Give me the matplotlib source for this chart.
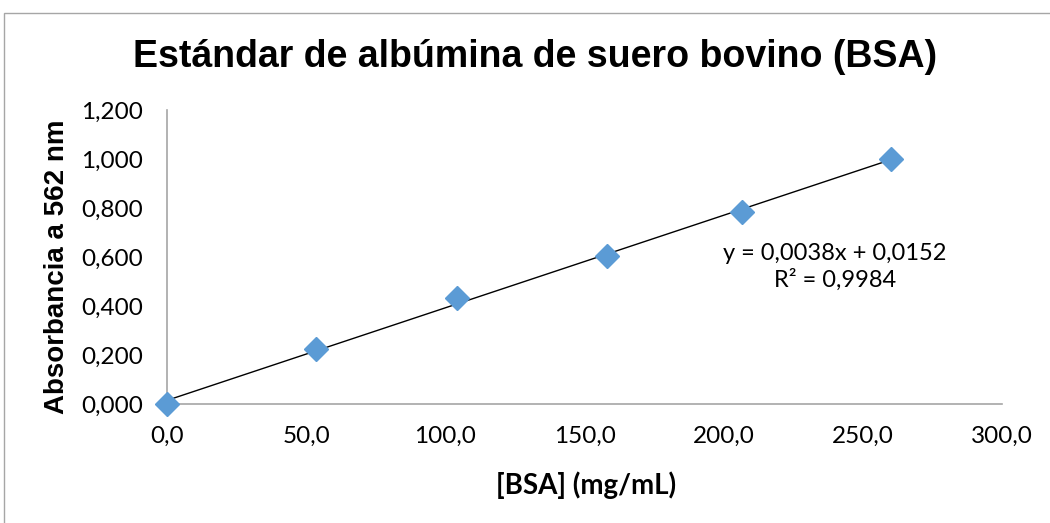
import numpy as np
import matplotlib.pyplot as plt
from matplotlib.patches import Rectangle

# [BSA] (mg/mL) vs absorbance at 562 nm
bsa = [0.0, 53.5, 104.2, 158.1, 206.6, 260.1]
absorb = [0.000, 0.224, 0.433, 0.604, 0.784, 1.000]
x_ticks = [0, 50, 100, 150, 200, 250, 300]
y_ticks = [0.0, 0.2, 0.4, 0.6, 0.8, 1.0, 1.2]

title = "Estándar de albúmina de suero bovino (BSA)"
eq_text = "y = 0,0038x + 0,0152\nR² = 0,9984"

blue = "#5B9BD5"
grey = "#A6A6A6"

fig = plt.figure(figsize=(10.5, 5.23), dpi=100)
# Excel chart-area border (only top and left edges visible)
fig.patches.append(Rectangle((4 / 1050, -0.1), 1.2, 1 - 13 / 523 + 0.1,
                             transform=fig.transFigure, fill=False,
                             edgecolor=grey, lw=1))

ax = fig.add_axes([167 / 1050, 1 - 404 / 523, 835 / 1050, 294 / 523])
ax.set_xlim(0, 300)
ax.set_ylim(0, 1.2)

# linear fit
m, b = np.polyfit(bsa, absorb, 1)
xs = np.array([0, max(bsa)])
ax.plot(xs, m * xs + b, color="black", lw=1, zorder=2)
ax.plot(bsa, absorb, linestyle="none", marker="D", ms=12,
        color=blue, zorder=3, clip_on=False)

ax.set_xticks(x_ticks)
ax.set_xticklabels(["{:.1f}".format(v).replace(".", ",") for v in x_ticks])
ax.set_yticks(y_ticks)
ax.set_yticklabels(["{:.3f}".format(v).replace(".", ",") for v in y_ticks])
ax.tick_params(length=0, labelsize=17.5)
ax.tick_params(axis="y", pad=17)
ax.tick_params(axis="x", pad=16)
for lab in ax.get_xticklabels() + ax.get_yticklabels():
    lab.set_family("Lato")

for s in ["top", "right"]:
    ax.spines[s].set_visible(False)
for s in ["left", "bottom"]:
    ax.spines[s].set_color(grey)
    ax.spines[s].set_linewidth(1.2)

ax.text(240, 0.559, eq_text, fontsize=17, family="Lato",
        ha="center", va="center", linespacing=1.27)

fig.text(535 / 1050, 1 - 57 / 523, title, fontsize=27, fontweight="bold",
         family="Liberation Sans", ha="center", va="center")
fig.text(586 / 1050, 1 - 485 / 523, "[BSA] (mg/mL)", fontsize=20,
         fontweight="bold", family="Lato", ha="center", va="center")
fig.text(57 / 1050, 1 - 267 / 523, "Absorbancia a 562 nm", fontsize=20,
         fontweight="bold", family="Liberation Sans", ha="center",
         va="center", rotation=90)

fig.savefig("out.png", dpi=100)
